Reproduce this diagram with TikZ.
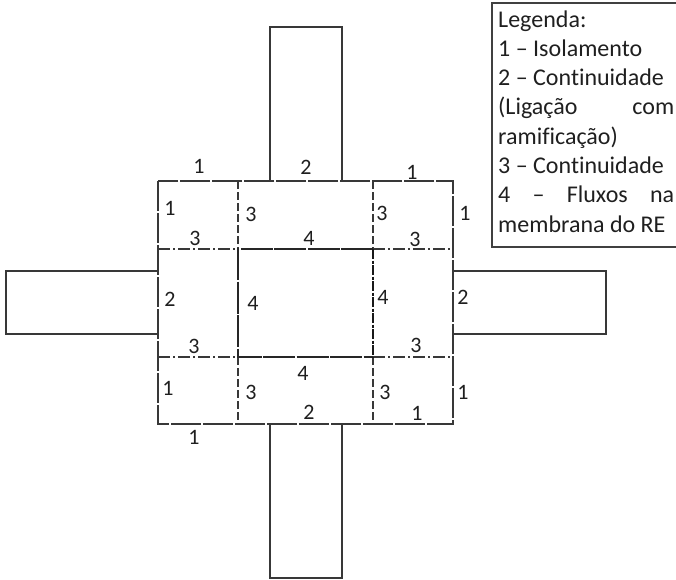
\documentclass[tikz,border=0pt]{standalone}
\usepackage{fontspec}
\setmainfont{Carlito}[Ligatures=NoCommon]
\begin{document}
\begin{tikzpicture}[x=1pt,y=-1pt,
  edge/.style={draw=black!78,line width=1.3pt},
  border/.style={edge,dash pattern=on 30pt off 2pt},
  longdash/.style={draw=black!78,line width=1.2pt,dash pattern=on 8pt off 3pt},
  dashdot/.style={draw=black!78,line width=1.2pt,dash pattern=on 12pt off 3pt on 2pt off 3pt},
  membrane/.style={draw=black!85,line width=1.3pt,dash pattern=on 32pt off 1.5pt},
  membranebold/.style={draw=black!90,line width=2pt,dash pattern=on 10pt off 1.5pt on 3pt off 1.5pt},
  lbl/.style={font=\fontsize{22}{26}\selectfont,text=black!88,inner sep=0pt},
  legline/.style={font=\fontsize{24}{29}\selectfont,text=black!88,inner sep=0pt,anchor=base west}]
\useasboundingbox (0,0) rectangle (676,579);

% arms around the central block
\draw[edge] (270,181) -- (270,27) -- (342,27) -- (342,181);
\draw[edge] (270,424) -- (270,578) -- (342,578) -- (342,424);
\draw[edge] (158,271) -- (6,271) -- (6,334) -- (158,334);
\draw[edge] (453,271) -- (606,271) -- (606,334) -- (453,334);

% outer boundary of the block
\draw[border] (158,181) rectangle (453,424);

% inner divisions
\draw[longdash] (238,181) -- (238,249);
\draw[longdash] (373,181) -- (373,249);
\draw[longdash] (238,357) -- (238,424);
\draw[longdash] (373,357) -- (373,424);
\draw[dashdot] (158,249) -- (238,249);
\draw[dashdot] (373,249) -- (453,249);
\draw[dashdot] (158,357) -- (238,357);
\draw[dashdot] (373,357) -- (453,357);

% central membrane region
\draw[membrane] (373,249) -- (238,249) -- (238,357) -- (373,357);
\draw[membranebold] (373,249) -- (373,357);

% boundary condition labels
\node[lbl] (t1) at (199,166) {1};
\node[lbl] (t2) at (306,167) {2};
\node[lbl] (t3) at (412,172) {1};
\node[lbl] (a1) at (170,208) {1};
\node[lbl] (a2) at (195,238) {3};
\node[lbl] (a3) at (251,214) {3};
\node[lbl] (a4) at (309,238) {4};
\node[lbl] (a5) at (382,213) {3};
\node[lbl] (a6) at (415,239) {3};
\node[lbl] (a7) at (465,213) {1};
\node[lbl] (b1) at (170,299) {2};
\node[lbl] (b2) at (253,303) {4};
\node[lbl] (b3) at (383,297) {4};
\node[lbl] (b4) at (463,297) {2};
\node[lbl] (b5) at (194,346) {3};
\node[lbl] (b6) at (416,345) {3};
\node[lbl] (c1) at (303,373) {4};
\node[lbl] (c2) at (168,388) {1};
\node[lbl] (c3) at (251,392) {3};
\node[lbl] (c4) at (385,392) {3};
\node[lbl] (c5) at (463,392) {1};
\node[lbl] (c6) at (309,412) {2};
\node[lbl] (c7) at (417,413) {1};
\node[lbl] (d1) at (194,437) {1};

% legend
\draw[draw=black!75,line width=1.3pt] (680,3) -- (492,3) -- (492,247) -- (680,247);
\node[legline] (l1) at (498,27) {Legenda:};
\node[legline] (l2) at (498,56.3) {1 – Isolamento};
\node[legline] (l3) at (498,85.6) {2 – Continuidade};
\node[legline] (l4) at (498,114.9) {\makebox[176pt][s]{(Ligação com}};
\node[legline] (l5) at (498,144.2) {ramificação)};
\node[legline] (l6) at (498,173.5) {3 – Continuidade};
\node[legline] (l7) at (498,202.8) {\makebox[176pt][s]{4 – Fluxos na}};
\node[legline] (l8) at (498,232.1) {membrana do RE};
\end{tikzpicture}
\end{document}
